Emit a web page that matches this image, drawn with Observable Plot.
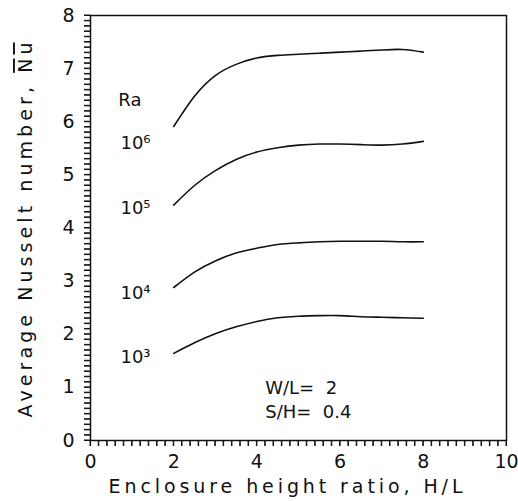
<!DOCTYPE html>
<html>
<head>
<meta charset="utf-8">
<script src="https://cdn.jsdelivr.net/npm/d3@7"></script>
<script src="https://cdn.jsdelivr.net/npm/@observablehq/plot@0.6"></script>
<style>
  html, body { margin: 0; padding: 0; background: #fff; }
  svg { font-family: "DejaVu Sans", sans-serif; }
</style>
</head>
<body>
<div id="chart"></div>
<script>
const hl = [2, 2.5, 3, 3.5, 4, 4.5, 5, 5.5, 6, 6.5, 7, 7.5, 8];
const nuRa1e3 = [1.64, 1.84, 2.01, 2.14, 2.24, 2.31, 2.34, 2.35, 2.35, 2.33, 2.32, 2.31, 2.30];
const nuRa1e4 = [2.88, 3.17, 3.38, 3.53, 3.62, 3.69, 3.72, 3.74, 3.75, 3.75, 3.75, 3.74, 3.74];
const nuRa1e5 = [4.43, 4.80, 5.08, 5.29, 5.43, 5.51, 5.56, 5.58, 5.58, 5.57, 5.56, 5.58, 5.63];
const nuRa1e6 = [5.91, 6.48, 6.87, 7.08, 7.20, 7.25, 7.27, 7.29, 7.31, 7.33, 7.35, 7.36, 7.31];
const seriesNames = ["1e3", "1e4", "1e5", "1e6"];
const seriesValues = [nuRa1e3, nuRa1e4, nuRa1e5, nuRa1e6];

const labelTexts = ["Ra", "10⁶", "10⁵", "10⁴", "10³", "W/L=  2", "S/H=  0.4"];
const labelX = [0.67, 0.72, 0.72, 0.72, 0.72, 4.2, 4.2];
const labelY = [6.40, 5.59, 4.37, 2.77, 1.56, 0.98, 0.53];

const xTickLabels = [0, 2, 4, 6, 8, 10];
const yTickLabels = [0, 1, 2, 3, 4, 5, 6, 7, 8];
const xMinorTicks = d3.range(0, 51).map(i => i / 5);
const yMinorTicks = d3.range(0, 81).map(i => i / 10);

const near = (a, b) => Math.abs(a - b) < 1e-9;
const lineData = seriesNames.flatMap((s, i) => hl.map((x, j) => ({series: s, x, y: seriesValues[i][j]})));
const labelData = labelTexts.map((t, i) => ({text: t, x: labelX[i], y: labelY[i]}));

const chart = Plot.plot({
  width: 518,
  height: 501,
  marginLeft: 90,
  marginRight: 12,
  marginTop: 15,
  marginBottom: 61,
  style: {fontFamily: "DejaVu Sans, sans-serif", fontSize: "18px", color: "#111"},
  x: {domain: [0, 10]},
  y: {domain: [0, 8]},
  marks: [
    Plot.frame({stroke: "#111", strokeWidth: 1.5}),
    Plot.axisX({anchor: "bottom", ticks: xMinorTicks, tickSize: 6, tickPadding: 8, fontSize: 19,
      tickFormat: d => { const t = xTickLabels.find(v => near(v, d)); return t === undefined ? "" : String(t); },
      label: "Enclosure height ratio, H/L", labelAnchor: "center", labelArrow: "none", labelOffset: 52}),
    Plot.axisY({anchor: "left", ticks: yMinorTicks, tickSize: 6, tickPadding: 10, fontSize: 19,
      tickFormat: d => { const t = yTickLabels.find(v => near(v, d)); return t === undefined ? "" : String(t); },
      label: "Average Nusselt number, Nu", labelAnchor: "center", labelArrow: "none", labelOffset: 72}),
    Plot.line(lineData, {x: "x", y: "y", z: "series", curve: "natural", stroke: "#111", strokeWidth: 1.6}),
    Plot.text(labelData, {x: "x", y: "y", text: "text", textAnchor: "start", fontSize: 18, fill: "#111"})
  ]
});
document.getElementById("chart").appendChild(chart);

const svgEl = chart.tagName.toLowerCase() === "svg" ? chart : chart.querySelector("svg");
const svg = d3.select(svgEl);
const sx = chart.scale("x"), sy = chart.scale("y");

// minor tick combs drawn through the plot's own scales
const tickG = svg.append("g").attr("stroke", "#111").attr("stroke-width", 1);
const x0 = sx.apply(0), y0 = sy.apply(0);
tickG.selectAll("line.yt").data(yMinorTicks).join("line")
  .attr("x1", x0 - 6).attr("x2", x0).attr("y1", d => sy.apply(d)).attr("y2", d => sy.apply(d));
tickG.selectAll("line.xt").data(xMinorTicks).join("line")
  .attr("y1", y0).attr("y2", y0 + 6).attr("x1", d => sx.apply(d)).attr("x2", d => sx.apply(d));

// axis labels: spread to the reference's length, overline on "Nu"
const yl = svg.select('g[aria-label="y-axis label"] text');
if (!yl.empty()) {
  const base = yl.text().replace(/Nu$/, "");
  yl.text(base);
  yl.append("tspan").attr("text-decoration", "overline").style("text-decoration", "overline").text("Nu");
  yl.attr("textLength", 375).attr("lengthAdjust", "spacing").attr("dx", -2);
}
const xl = svg.select('g[aria-label="x-axis label"] text');
if (!xl.empty()) xl.attr("textLength", 354).attr("lengthAdjust", "spacing").attr("dx", -13);
</script>
</body>
</html>
